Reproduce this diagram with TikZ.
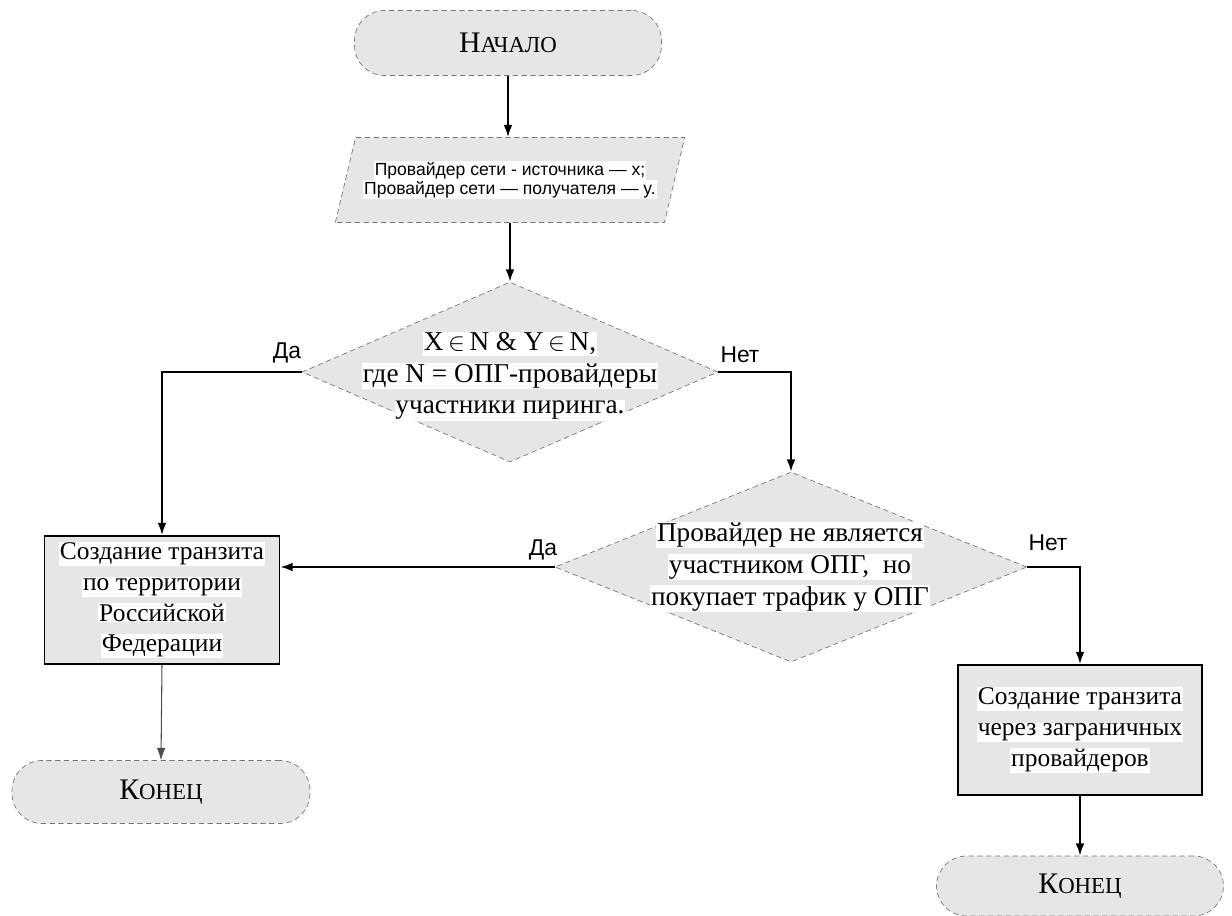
\documentclass[tikz,border=0pt]{standalone}
\usepackage{fontspec}
\setmainfont{Liberation Serif}
\setsansfont{Liberation Sans}
\usepackage{xcolor}
\usepackage{tikz}
\usetikzlibrary{shapes,arrows.meta,positioning}
\definecolor{flowgray}{RGB}{230,230,230}
\definecolor{edgegray}{RGB}{120,120,120}
\newcommand{\hl}[1]{{\setlength{\fboxsep}{0.5pt}\colorbox{white}{#1}}}
\newcommand{\scword}[2]{{\fontsize{17}{20}\selectfont #1}{\fontsize{13}{15}\selectfont #2}}

\begin{document}
\begin{tikzpicture}[x=0.02cm, y=-0.02cm,
    term/.style={rectangle, rounded corners=0.6cm, draw=edgegray, densely dashed, fill=flowgray, minimum height=1.26cm},
    io/.style={trapezium, trapezium left angle=68, trapezium right angle=112, trapezium stretches=true, draw=edgegray, densely dashed, fill=flowgray, minimum width=7cm, minimum height=1.7cm, font=\sffamily\fontsize{10}{11}\selectfont, align=center},
    decision/.style={diamond, draw=edgegray, densely dashed, fill=flowgray, inner sep=0pt},
    process/.style={rectangle, draw, line width=1pt, fill=flowgray, align=center, font=\fontsize{14.5}{17.5}\selectfont},
    txt/.style={align=center, font=\fontsize{15.5}{18}\selectfont},
    answer/.style={font=\sffamily\fontsize{13}{15}\selectfont},
    arrow/.style={-{Latex[length=7pt,width=5pt]}, line width=1.1pt}
]
    \useasboundingbox (0,0) rectangle (1232,916);

    % Start and input
    \node[term, minimum width=6.14cm, minimum height=1.3cm] (start) at (508,43) {\scword{Н}{АЧАЛО}};
    \node[io] (para) at (510,180) {\hl{Провайдер сети - источника — x;}\\\hl{Провайдер сети — получателя — y.}};

    % Decisions
    \node[decision, minimum width=8.32cm, minimum height=3.6cm] (d1) at (510,372) {};
    \node[txt] (d1text) at (510,376) {\hl{X\,$\in$\,N \& Y\,$\in$\,N,}\\\hl{где N = ОПГ-провайдеры}\\\hl{участники пиринга.}};
    \node[decision, minimum width=9.44cm, minimum height=3.8cm] (d2) at (791,567) {};
    \node[txt] (d2text) at (790,567) {\hl{Провайдер не является}\\\hl{участником ОПГ,\ \ но}\\\hl{покупает трафик у ОПГ}};

    % Actions
    \node[process, minimum width=4.7cm, minimum height=2.5cm] (box1) at (162,600) {\hl{Создание транзита}\\\hl{по территории}\\\hl{Российской}\\\hl{Федерации}};
    \node[process, minimum width=4.88cm, minimum height=2.6cm] (box2) at (1080,730) {\hl{Создание транзита}\\\hl{через заграничных}\\\hl{провайдеров}};

    % Ends
    \node[term, minimum width=5.96cm] (end1) at (161,792) {\scword{К}{ОНЕЦ}};
    \node[term, minimum width=5.74cm, minimum height=1.2cm] (end2) at (1080,886) {\scword{К}{ОНЕЦ}};

    % Arrows
    \draw[arrow] (start.south) -- (start.south |- para.north);
    \draw[arrow] (para.south) -- (d1.north);
    \draw[arrow] (d1.west) -| (box1.north);
    \draw[arrow] (d1.east) -| (d2.north);
    \draw[arrow] (d2.west) -- (d2.west -| box1.east);
    \draw[arrow] (d2.east) -| (box2.north);
    \draw[arrow, line width=0.6pt, draw=black!70] (box1.south) -- (end1.north);
    \draw[arrow] (box2.south) -- (end2.north);

    % Labels
    \node[answer] (yes1) at (287,353) {Да};
    \node[answer] (no1) at (740,355) {Нет};
    \node[answer] (yes2) at (543,550) {Да};
    \node[answer] (no2) at (1048,543) {Нет};
\end{tikzpicture}
\end{document}
